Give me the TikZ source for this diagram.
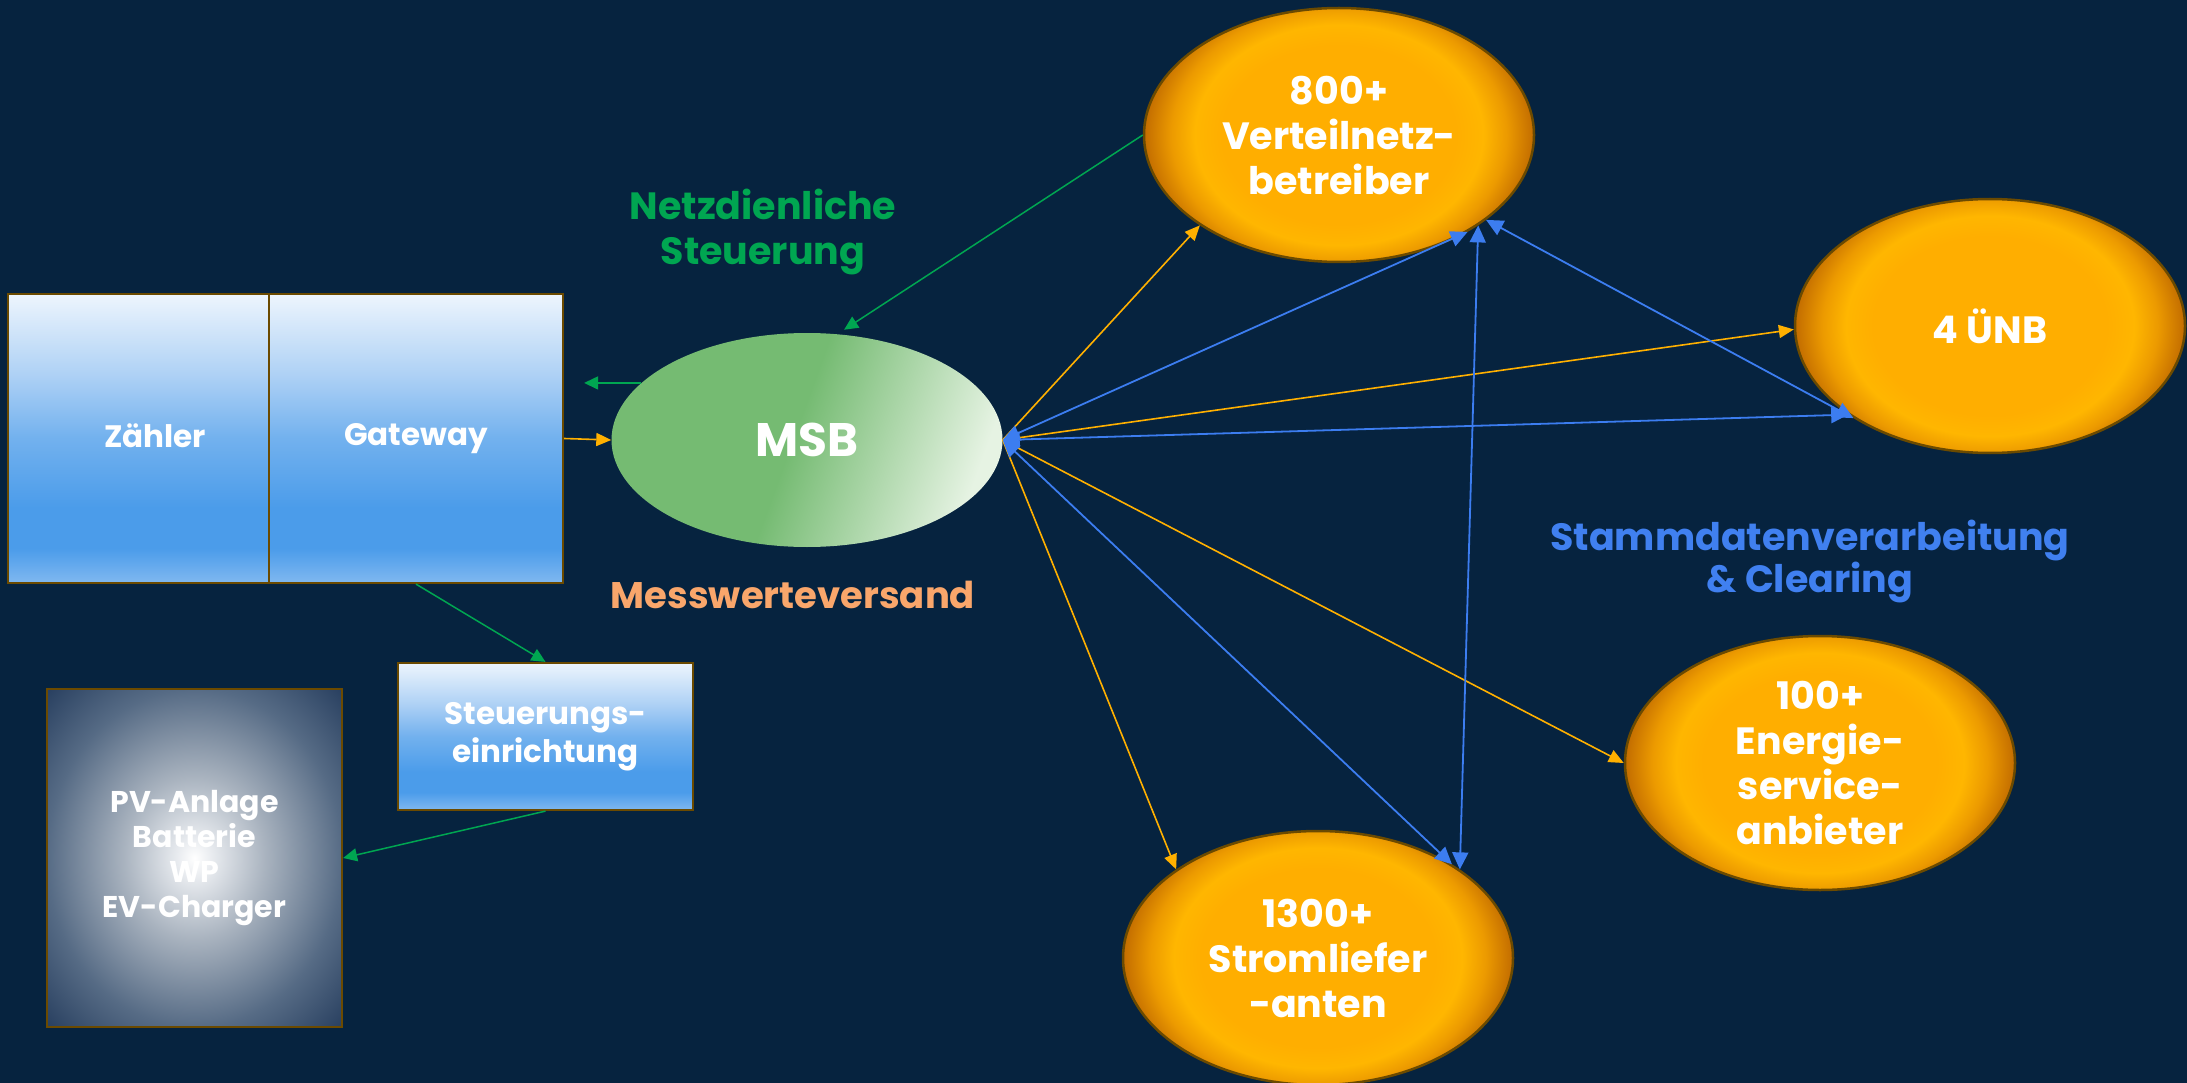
\documentclass[tikz,border=0pt]{standalone}
\usepackage{fontspec}
\setmainfont{Poppins}
\usetikzlibrary{shapes.geometric,arrows.meta}
\definecolor{bg}{HTML}{06233F}
\definecolor{cgreen}{HTML}{00A651}
\definecolor{corange}{HTML}{FFB000}
\definecolor{cblue}{HTML}{3C7DF0}
\definecolor{clabelor}{HTML}{F9A66B}
\definecolor{clabelbl}{HTML}{4080F0}
\definecolor{brownline}{HTML}{6B4A00}
\definecolor{odark}{HTML}{C26C00}
\definecolor{omid}{HTML}{EC9A00}
\definecolor{obright}{HTML}{FFB600}
\definecolor{ocenter}{HTML}{FFAE00}
\definecolor{bA}{HTML}{80B8F0}
\definecolor{bB}{HTML}{4B9CEA}
\definecolor{bC}{HTML}{72B1EE}
\definecolor{bD}{HTML}{AED1F5}
\definecolor{bE}{HTML}{EDF5FD}
\definecolor{pA}{HTML}{E8EBEF}
\definecolor{pB}{HTML}{A9B3BF}
\definecolor{pC}{HTML}{566B85}
\definecolor{pD}{HTML}{2A4161}
\definecolor{gA}{HTML}{75BB72}
\definecolor{gB}{HTML}{E6F3E3}
\pgfdeclareradialshading{orangesh}{\pgfpoint{0bp}{0bp}}{color(0bp)=(ocenter); color(15bp)=(ocenter); color(18.5bp)=(obright); color(21.5bp)=(omid); color(25bp)=(odark); color(50bp)=(odark)}
\pgfdeclareverticalshading{boxsh}{100bp}{color(0bp)=(bA); color(25bp)=(bA); color(31bp)=(bB); color(38bp)=(bB); color(50bp)=(bC); color(61bp)=(bD); color(75bp)=(bE); color(100bp)=(bE)}
\pgfdeclareradialshading{pvsh}{\pgfpoint{0bp}{0bp}}{color(0bp)=(white); color(3bp)=(pA); color(12bp)=(pB); color(25bp)=(pC); color(35bp)=(pD); color(50bp)=(pD)}
\pgfdeclarehorizontalshading{msbsh}{100bp}{color(0bp)=(gA); color(48bp)=(gA); color(75bp)=(gB); color(100bp)=(gB)}
\begin{document}
\begin{tikzpicture}[x=1pt,y=-1pt,
  txt/.style={text=white, font=\bfseries\fontsize{#1}{#1}\selectfont, align=center, inner sep=0pt},
  ptxt/.style={font=\bfseries\fontsize{38}{45}\selectfont, align=center, inner sep=0pt},
  party/.style={ellipse, draw=brownline, line width=2.5pt, fill=corange,
    path picture={\shade[shading=orangesh] ([yshift=-22pt]path picture bounding box.south west) rectangle ([yshift=22pt]path picture bounding box.north east);},
    minimum width=390pt, minimum height=254pt, inner sep=0pt, text=white, font=\bfseries\fontsize{38}{45}\selectfont, align=center},
  bluebox/.style={rectangle, draw=brownline, line width=2.2pt, shading=boxsh, inner sep=0pt, text=white, align=center},
  garrow/.style={draw=cgreen, line width=1.5pt, -{Triangle[length=14pt,width=13pt]}},
  oarrow/.style={draw=corange, line width=1.6pt, -{Triangle[length=15pt,width=13pt]}},
  barrow/.style={draw=cblue, line width=1.8pt, {Triangle[length=17pt,width=16pt]}-{Triangle[length=17pt,width=16pt]}}
]
\useasboundingbox (0,0) rectangle (2187,1083);
\fill[bg] (0,0) rectangle (2187,1083);

% boxes
\node[bluebox, minimum width=261pt, minimum height=289pt] (zaehler) at (138.5,438.5) {};
\node[txt=31] (zt) at (155,436) {Zähler};
\node[bluebox, minimum width=294pt, minimum height=289pt, font=\bfseries\fontsize{31}{38}\selectfont] (gateway) at (416,438.5) {Gateway};
\node[bluebox, minimum width=295pt, minimum height=147pt, font=\bfseries\fontsize{31}{38}\selectfont] (steuer) at (545.5,736.5) {Steuerungs-\\einrichtung};
\node[rectangle, draw=brownline, line width=2.2pt, shading=pvsh, minimum width=295pt, minimum height=338pt, inner sep=0pt, text=white, align=center, font=\bfseries\fontsize{30}{35}\selectfont] (pv) at (194.5,858) {PV-Anlage\\Batterie\\WP\\EV-Charger};

% MSB
\node[ellipse, shading=msbsh, shading angle=-20, minimum width=391pt, minimum height=214pt, inner sep=0pt, text=white, font=\bfseries\fontsize{47}{47}\selectfont] (msb) at (807,440) {MSB};

% parties
\node[party] (vnb) at (1339,135) {800+\\Verteilnetz-\\betreiber};
\node[party] (une) at (1990,326) {4 ÜNB};
\node[party] (eng) at (1820,763) {100+\\Energie-\\service-\\anbieter};
\node[party] (strom) at (1318,958) {1300+\\Stromliefer\\-anten};

% labels
\node[ptxt, text=cgreen] (lnetz) at (763,232) {Netzdienliche\\Steuerung};
\node[ptxt, text=clabelor, font=\bfseries\fontsize{37}{45}\selectfont] (lmess) at (793,595) {Messwerteversand};
\node[ptxt, text=clabelbl, font=\bfseries\fontsize{38}{42}\selectfont] (lstamm) at (1810,562) {Stammdatenverarbeitung\\\& Clearing};

% green connectors
\draw[garrow, shorten >=8pt] (vnb.west) -- (msb.74);
\draw[garrow, shorten >=20pt] (msb.161) -- (msb.161 -| gateway.east);
\draw[garrow] (gateway.south) -- (steuer.north);
\draw[garrow] (steuer.south) -- (pv.east);
% orange connectors
\draw[oarrow] (gateway.east) -- (msb.west);
\draw[oarrow] (msb.east) -- (vnb.213);
\draw[oarrow] (msb.east) -- (une.181);
\draw[oarrow] (msb.east) -- (eng.west);
\draw[oarrow] (msb.east) -- (strom.148);
% blue connectors
\draw[barrow] (msb.east) -- (vnb.323);
\draw[barrow] (msb.east) -- (une.212);
\draw[barrow] (msb.east) -- (strom.35);
\draw[barrow] (vnb.327) -- (strom.32);
\draw[barrow] (vnb.330) -- (une.214);
\end{tikzpicture}
\end{document}
